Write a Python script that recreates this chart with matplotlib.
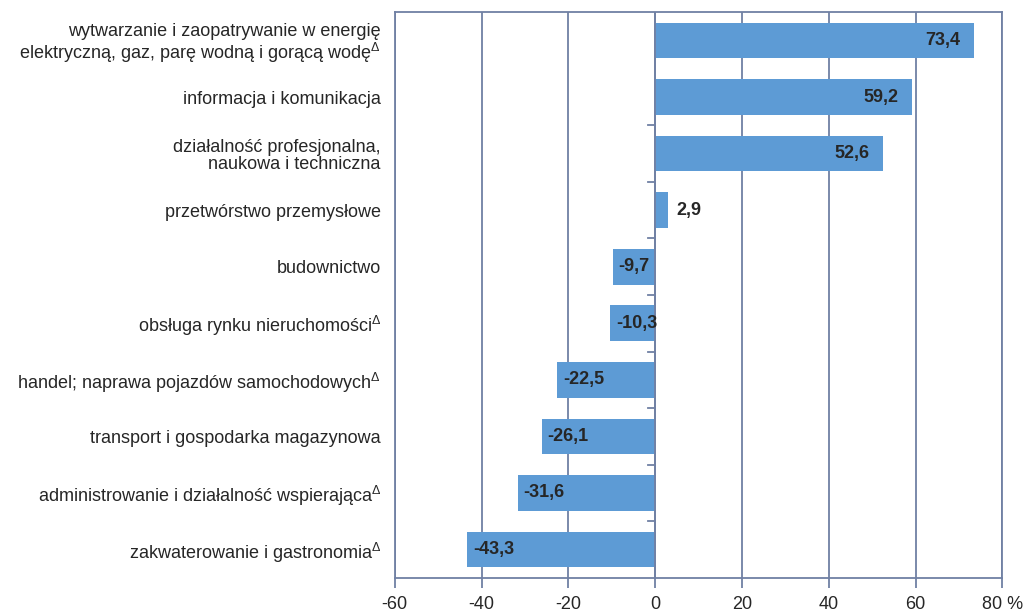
import matplotlib.pyplot as plt

plt.rcParams['font.family'] = ['Liberation Sans', 'DejaVu Sans']
plt.rcParams['mathtext.fontset'] = 'custom'
plt.rcParams['mathtext.rm'] = 'Liberation Sans'

# dane (od gory do dolu)
kategorie = [
    'wytwarzanie i zaopatrywanie w energię\nelektryczną, gaz, parę wodną i gorącą wodę$^{\\Delta}$',
    'informacja i komunikacja',
    'działalność profesjonalna,\nnaukowa i techniczna',
    'przetwórstwo przemysłowe',
    'budownictwo',
    'obsługa rynku nieruchomości$^{\\Delta}$',
    'handel; naprawa pojazdów samochodowych$^{\\Delta}$',
    'transport i gospodarka magazynowa',
    'administrowanie i działalność wspierająca$^{\\Delta}$',
    'zakwaterowanie i gastronomia$^{\\Delta}$',
]
wartosci = [73.4, 59.2, 52.6, 2.9, -9.7, -10.3, -22.5, -26.1, -31.6, -43.3]
osx_ticks = [-60, -40, -20, 0, 20, 40, 60, 80]
osx_labels = ['-60', '-40', '-20', '0', '20', '40', '60', '80 %']

kolor_slupka = '#5d9bd5'
kolor_linii = '#7080a4'
kolor_tekstu = '#262626'

fig = plt.figure(figsize=(10.28, 6.14), dpi=100)
ax = fig.add_axes([0.384, 0.059, 0.591, 0.921])

y = list(range(len(wartosci)))
ax.barh(y, wartosci, height=0.63, color=kolor_slupka, zorder=2)

ax.set_xlim(-60, 80)
ax.set_ylim(len(wartosci) - 0.5, -0.5)

ax.set_xticks(osx_ticks)
ax.set_xticklabels(osx_labels, fontsize=13, color=kolor_tekstu)
ax.set_yticks(y)
ax.set_yticklabels(kategorie, fontsize=13, color=kolor_tekstu, linespacing=1.05)
ax.tick_params(axis='y', length=0, pad=10)
ax.tick_params(axis='x', length=7, width=1.3, color=kolor_linii, pad=6)

ax.grid(axis='x', color=kolor_linii, linewidth=1.3, zorder=0)
ax.set_axisbelow(True)
for s in ax.spines.values():
    s.set_color(kolor_linii)
    s.set_linewidth(1.3)

# os zera i kreski miedzy kategoriami
ax.axvline(0, color=kolor_linii, linewidth=1.3, zorder=3)
for i in range(1, len(wartosci) - 1):
    ax.plot([-1.6, 0], [i + 0.5, i + 0.5], color=kolor_linii, linewidth=1.3, zorder=3, clip_on=False)

# etykiety wartosci
for i, v in enumerate(wartosci):
    txt = ('%.1f' % v).replace('.', ',')
    if v > 10:
        ax.annotate(txt, (v, i), xytext=(-10, 0), textcoords='offset points',
                    ha='right', va='center', fontsize=13, fontweight='bold', color=kolor_tekstu, zorder=4)
    elif v > 0:
        ax.annotate(txt, (v, i), xytext=(6, 0), textcoords='offset points',
                    ha='left', va='center', fontsize=13, fontweight='bold', color=kolor_tekstu, zorder=4)
    else:
        ax.annotate(txt, (v, i), xytext=(4, 0), textcoords='offset points',
                    ha='left', va='center', fontsize=13, fontweight='bold', color=kolor_tekstu, zorder=4)

plt.savefig('out.png', dpi=100)
